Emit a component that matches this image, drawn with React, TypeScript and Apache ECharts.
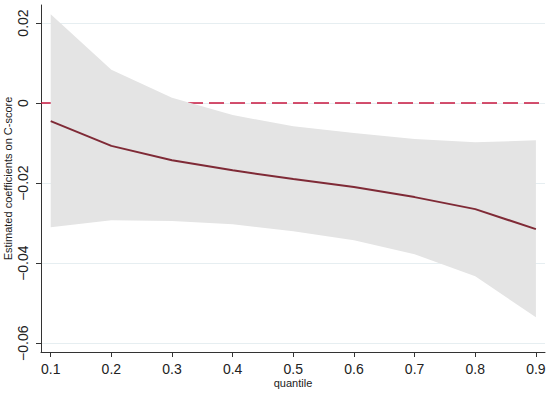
import React, { useEffect, useRef } from "react";
import * as echarts from "echarts";

const quantiles = [0.1, 0.2, 0.3, 0.4, 0.5, 0.6, 0.7, 0.8, 0.9];
const coef = [-0.0045, -0.0107, -0.0143, -0.0168, -0.019, -0.021, -0.0235, -0.0265, -0.0315];
const upper = [0.0222, 0.0083, 0.0013, -0.003, -0.0058, -0.0075, -0.009, -0.0098, -0.0093];
const lower = [-0.031, -0.0293, -0.0295, -0.0303, -0.032, -0.0343, -0.0378, -0.0433, -0.0535];
const yTicks = [-0.06, -0.04, -0.02, 0, 0.02];
const xTicks = [0.1, 0.2, 0.3, 0.4, 0.5, 0.6, 0.7, 0.8, 0.9];

const FONT = "Liberation Sans, Arial, Helvetica, sans-serif";

export default function App() {
  const ref = useRef<HTMLDivElement>(null);
  useEffect(() => {
    if (!ref.current) return;
    const chart = echarts.init(ref.current, undefined, { renderer: "svg" });
    const xMin = 0.084;
    const xMax = 0.915;
    const option: any = {
      animation: false,
      backgroundColor: "#ffffff",
      grid: { left: 41, right: 5, top: 5, bottom: 41, containLabel: false, outerBoundsMode: "none" },
      xAxis: {
        type: "value",
        min: xMin,
        max: xMax,
        name: "quantile",
        nameLocation: "middle",
        nameGap: 25,
        nameMoveOverlap: false,
        nameTextStyle: { fontFamily: FONT, fontSize: 11, color: "#222" },
        axisLine: { show: true, onZero: false, lineStyle: { color: "#333", width: 1 } },
        axisTick: { show: true, length: 5, customValues: xTicks, lineStyle: { color: "#333" } },
        axisLabel: {
          customValues: xTicks,
          margin: 10,
          fontFamily: FONT,
          fontSize: 14,
          color: "#222",
          formatter: (v: number) => v.toFixed(1),
        },
        splitLine: { show: false },
      },
      yAxis: {
        type: "value",
        min: -0.0622,
        max: 0.0245,
        name: "Estimated coefficients on C-score",
        nameLocation: "middle",
        nameGap: 28,
        nameMoveOverlap: false,
        nameTextStyle: { fontFamily: FONT, fontSize: 11, color: "#222" },
        axisLine: { show: true, onZero: false, lineStyle: { color: "#333", width: 1 } },
        axisTick: { show: true, length: 5, customValues: yTicks, lineStyle: { color: "#333" } },
        axisLabel: {
          customValues: yTicks,
          rotate: 90,
          margin: 11,
          fontFamily: FONT,
          fontSize: 14,
          color: "#222",
          formatter: (v: number) => {
            const r = Math.round(v * 100) / 100;
            if (r === 0) return "0";
            const s = Math.abs(r).toFixed(2);
            return r < 0 ? "\u2212" + s : s;
          },
        },
        splitLine: { show: true, lineStyle: { color: "#e6eef1", width: 1 } },
      },
      series: [
        {
          type: "line",
          z: 1,
          data: [
            [xMin, 0],
            [xMax, 0],
          ],
          symbol: "none",
          silent: true,
          lineStyle: { color: "#c8173f", width: 1.5, type: [15, 6] },
        },
        {
          type: "custom",
          z: 2,
          silent: true,
          data: [0],
          renderItem: (params: any, api: any) => {
            const pts: number[][] = [];
            for (let i = 0; i < quantiles.length; i++) pts.push(api.coord([quantiles[i], upper[i]]));
            for (let i = quantiles.length - 1; i >= 0; i--) pts.push(api.coord([quantiles[i], lower[i]]));
            return {
              type: "polygon",
              shape: { points: pts },
              style: { fill: "#e4e4e4", stroke: "none" },
            };
          },
        },
        {
          type: "line",
          z: 3,
          data: quantiles.map((q, i) => [q, coef[i]]),
          symbol: "none",
          silent: true,
          lineStyle: { color: "#7f2a36", width: 2 },
        },
      ],
    };
    chart.setOption(option);
    return () => chart.dispose();
  }, []);
  return <div ref={ref} style={{ width: 550, height: 393, position: "absolute", left: 0, top: 0 }} />;
}
